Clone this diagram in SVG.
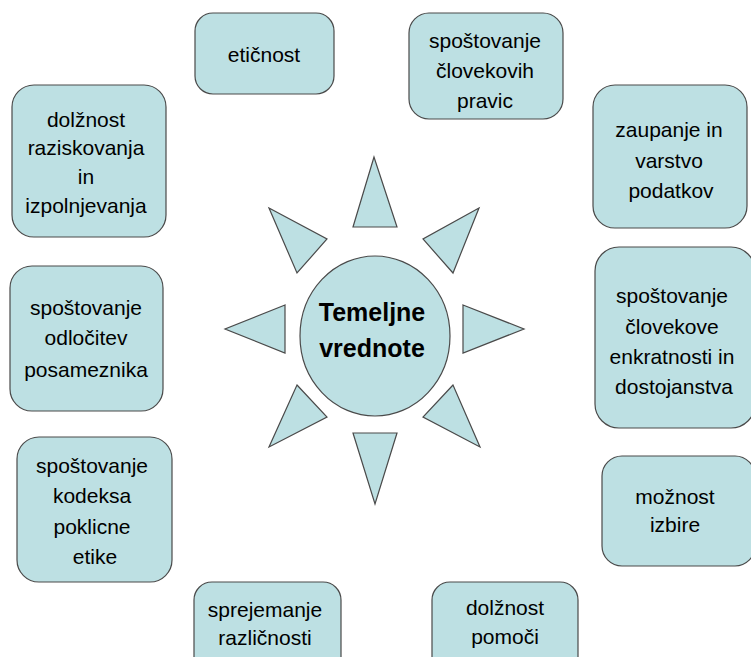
<svg xmlns="http://www.w3.org/2000/svg" width="751" height="657" viewBox="0 0 751 657">
<style>
.b{fill:#bde0e3;stroke:#4a4a4a;stroke-width:1.2}
.t{font-family:"Liberation Sans",Arial,sans-serif;font-size:21px;fill:#000;text-anchor:middle}
.c{font-family:"Liberation Sans",Arial,sans-serif;font-size:25px;font-weight:bold;fill:#000;text-anchor:middle}
</style>
<rect width="751" height="657" fill="#fff"/>
<g id="sun">
<ellipse class="b" cx="375" cy="336" rx="75" ry="80"/>
<polygon class="b" points="374,157 353,227 397,227"/>
<polygon class="b" points="479,208 423,239 453,273"/>
<polygon class="b" points="463,305 524,329 463,353"/>
<polygon class="b" points="453,385 423,417 480,447"/>
<polygon class="b" points="353,433 397,433 375,504"/>
<polygon class="b" points="297,385 327,417 269,447"/>
<polygon class="b" points="285,305 225,329 285,353"/>
<polygon class="b" points="269,208 327,239 297,273"/>
<text class="c" x="372" y="321">Temeljne</text>
<text class="c" x="372" y="357">vrednote</text>
</g>
<g id="n1"><rect class="b" x="195" y="13" width="139" height="81" rx="18"/><text class="t" x="264" y="62">etičnost</text></g>
<g id="n2"><rect class="b" x="409" y="13" width="154" height="106" rx="20"/><text class="t" x="485" y="48">spoštovanje</text><text class="t" x="485" y="78">človekovih</text><text class="t" x="485" y="108">pravic</text></g>
<g id="n3"><rect class="b" x="12" y="85" width="154" height="152" rx="22"/><text class="t" x="86" y="127">dolžnost</text><text class="t" x="86" y="155">raziskovanja</text><text class="t" x="86" y="184">in</text><text class="t" x="86" y="213">izpolnjevanja</text></g>
<g id="n4"><rect class="b" x="593" y="85" width="154" height="143" rx="22"/><text class="t" x="669" y="137">zaupanje in</text><text class="t" x="669" y="168">varstvo</text><text class="t" x="671" y="198">podatkov</text></g>
<g id="n5"><rect class="b" x="10" y="266" width="153" height="145" rx="22"/><text class="t" x="86" y="315">spoštovanje</text><text class="t" x="86" y="345">odločitev</text><text class="t" x="86" y="377">posameznika</text></g>
<g id="n6"><rect class="b" x="595" y="247" width="160" height="181" rx="24"/><text class="t" x="672" y="303">spoštovanje</text><text class="t" x="672" y="334">človekove</text><text class="t" x="672" y="364">enkratnosti in</text><text class="t" x="674" y="394">dostojanstva</text></g>
<g id="n7"><rect class="b" x="17" y="437" width="155" height="145" rx="22"/><text class="t" x="92" y="473">spoštovanje</text><text class="t" x="92" y="503">kodeksa</text><text class="t" x="92" y="534">poklicne</text><text class="t" x="95" y="564">etike</text></g>
<g id="n8"><rect class="b" x="602" y="456" width="153" height="110" rx="20"/><text class="t" x="675" y="504">možnost</text><text class="t" x="675" y="532">izbire</text></g>
<g id="n9"><rect class="b" x="194" y="582" width="147" height="100" rx="18"/><text class="t" x="265" y="617">sprejemanje</text><text class="t" x="265" y="645">različnosti</text></g>
<g id="n10"><rect class="b" x="432" y="582" width="146" height="100" rx="18"/><text class="t" x="505" y="615">dolžnost</text><text class="t" x="505" y="644">pomoči</text></g>
<g id="connectors"/>
</svg>
